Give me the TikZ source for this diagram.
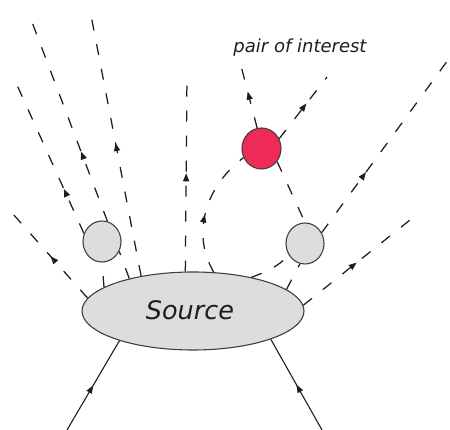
\documentclass[tikz,border=0pt]{standalone}
\usepackage{fontspec}
\usetikzlibrary{shapes.geometric,arrows.meta,decorations.markings}
\newfontfamily\dvs{DejaVu Sans}
\definecolor{ink}{HTML}{1E1E1E}
\definecolor{blobgray}{HTML}{DDDDDD}
\definecolor{hotred}{RGB}{238,42,88}
\begin{document}
\begin{tikzpicture}[x=1pt,y=1pt,
  blob/.style={ellipse, draw=ink!85, line width=1.1pt, inner sep=0pt, fill=blobgray},
  flow/.style={draw=ink, line width=1.25pt, dash pattern=on 11pt off 14pt},
  feed/.style={draw=ink, line width=1.1pt},
  arrowat/.style={postaction={decorate}, decoration={markings,
      mark=at position #1 with {\arrow{Triangle[length=8pt,width=6pt]}}}},
]
\useasboundingbox (0,0) rectangle (450,430);

% emitting source and intermediate blobs
\node[blob, minimum width=222pt, minimum height=78pt] (src) at (193,119) {};
\node[font=\dvs\itshape\fontsize{25.5}{28}\selectfont, text=ink] (srclbl) at (190,120) {Source};
\node[blob, minimum width=38pt, minimum height=41pt] (gl) at (102,188.5) {};
\node[blob, minimum width=38pt, minimum height=41pt] (gr) at (305,186.5) {};
\node[blob, fill=hotred, minimum width=39pt, minimum height=41pt] (red) at (261.5,281.5) {};
\node[font=\dvs\itshape\fontsize{18}{21}\selectfont, text=ink, anchor=base] (poi) at (300,377) {pair of interest};

% free ends of the particle tracks
\coordinate (e1) at (5,225);
\coordinate (e2) at (90,420);
\coordinate (e5) at (32,408);
\coordinate (e6) at (17,345);
\coordinate (e7) at (187,355);
\coordinate (e9) at (240,368);
\coordinate (e10) at (327,353);
\coordinate (e12) at (448,370);
\coordinate (e15) at (410,210);
\coordinate (b1) at (67,0);
\coordinate (b2) at (322,0);

% incoming beams
\draw[feed, arrowat=0.5] (b1) -- (src.202);
\draw[feed, arrowat=0.5] (b2) -- (src.-20);

% tracks leaving the source
\draw[flow, arrowat=0.45] (src.173) -- (e1);
\draw[flow, arrowat=0.5] (src.146) -- (e2);
\draw[flow, arrowat=0.5] (src.101) -- (e7);
\draw[flow, arrowat=0.5] (src.3) -- (e15);
\draw[flow] (src.165) -- (gl.south);
\draw[flow] (src.153) -- (gl.-30);
\draw[flow, arrowat=0.46] (src.62) to[out=120, in=217] (red.207);
\draw[flow] (src.30) to[out=20, in=225] (gr.216);
\draw[flow] (src.13) -- (gr.-104);

% decay products
\draw[flow, arrowat=0.35] (gl.75) -- (e5);
\draw[flow, arrowat=0.3] (gl.156) -- (e6);
\draw[flow, arrowat=0.35] (gr.33) -- (e12);
\draw[flow] (red.-40) -- (gr.north);
\draw[flow, arrowat=0.55] (red.102) -- (e9);
\draw[flow, arrowat=0.57] (red.29) -- (e10);
\end{tikzpicture}
\end{document}
